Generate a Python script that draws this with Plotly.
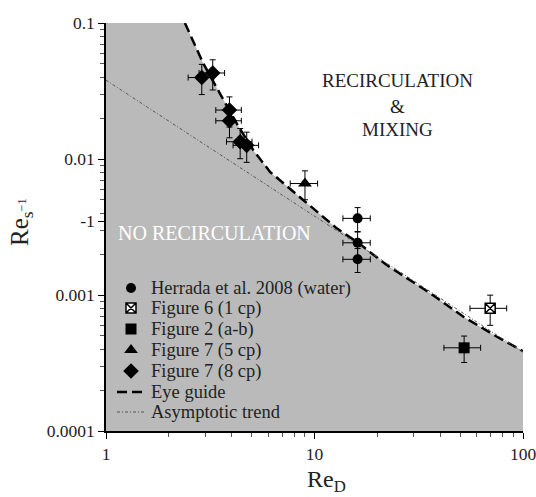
import plotly.graph_objects as go

# ---------------- data ----------------
herrada_x = [16.1, 16.1, 16.1]
herrada_y = [0.00366, 0.00242, 0.00183]

fig6_x = [69.6]
fig6_y = [0.000798]

fig2_x = [52.2]
fig2_y = [0.000409]

fig7_5cp_x = [9.0]
fig7_5cp_y = [0.0066]

fig7_8cp_x = [2.88, 3.25, 3.91, 3.91, 4.40, 4.73]
fig7_8cp_y = [0.0397, 0.0429, 0.0229, 0.0191, 0.0134, 0.0126]

eye_x = [2.39, 2.93, 3.52, 4.24, 5.09, 6.12, 8.85, 12.79, 15.96, 22.2, 35.9, 51.8, 75.0, 100.0]
eye_y = [0.1, 0.0503, 0.0303, 0.0182, 0.0116, 0.00804, 0.00498, 0.00309, 0.00246,
         0.00166, 0.00103, 0.000692, 0.000493, 0.000387]

asym_x = [1.0, 100.0]
asym_y = [0.038, 0.00038]

x_tickvals = [1, 10, 100]
x_ticktext = ["1", "10", "100"]
y_tickvals = [0.0001, 0.001, 0.0035, 0.01, 0.1]
y_ticktext = ["0.0001", "0.001", "-1", "0.01", "0.1"]

legend_names = ["Herrada et al. 2008 (water)", "Figure 6 (1 cp)", "Figure 2 (a-b)",
                "Figure 7 (5 cp)", "Figure 7 (8 cp)", "Eye guide", "Asymptotic trend"]

# ---------------- layout geometry (pixels) ----------------
W, H = 536, 497
L, R, T, B = 106, 13, 23, 66
PW, PH = W - L - R, H - T - B

def px2x(px):
    return (px - L) / PW

def py2y(py):
    return (H - B - py) / PH

SERIF = "Liberation Serif, Times New Roman, serif"
TXT = "#222"
fig = go.Figure()

# shaded "no recirculation" region below the eye guide
fig.add_trace(go.Scatter(
    x=[1.0] + eye_x + [eye_x[-1], 1.0],
    y=[eye_y[0]] + eye_y + [0.0001, 0.0001],
    fill="toself", fillcolor="#bababa", mode="none",
    showlegend=False, hoverinfo="skip"))

err_line = dict(color="black", thickness=1, width=3)

styles = [
    dict(symbol="circle", size=10, color="black", line=dict(color="black", width=0)),
    dict(symbol="square-x", size=10, color="white", line=dict(color="black", width=1.5)),
    dict(symbol="square", size=11, color="black", line=dict(color="black", width=0)),
    dict(symbol="triangle-up", size=12, color="black", line=dict(color="black", width=0)),
    dict(symbol="diamond", size=12, color="black", line=dict(color="black", width=0)),
]

series = [
    (herrada_x, herrada_y, 15, 20),
    (fig6_x, fig6_y, 20, 25),
    (fig2_x, fig2_y, 20, 22),
    (fig7_5cp_x, fig7_5cp_y, 15, 24),
    (fig7_8cp_x, fig7_8cp_y, 14, 25),
]

eye_line = dict(color="black", width=2.5, dash="10px,5px")
asym_line = dict(color="#555555", width=1, dash="3px,2px,1px,2px")

fig.add_trace(go.Scatter(x=eye_x, y=eye_y, mode="lines", name="Eye guide",
                         line=eye_line, showlegend=False))
fig.add_trace(go.Scatter(x=asym_x, y=asym_y, mode="lines", name="Asymptotic trend",
                         line=asym_line, showlegend=False))

for (x, y, ex, ey), st, nm in zip(series, styles, legend_names):
    fig.add_trace(go.Scatter(
        x=x, y=y, mode="markers", name=nm, marker=st, showlegend=False,
        error_x=dict(type="percent", value=ex, **err_line),
        error_y=dict(type="percent", value=ey, **err_line)))

# ---------- hand-placed legend (overlay axes in plot-fraction units) ----------
row_py = [288, 308, 329, 350, 371, 392, 412]
for i, st in enumerate(styles):
    fig.add_trace(go.Scatter(x=[px2x(131)], y=[py2y(row_py[i])], mode="markers",
                             marker=st, xaxis="x2", yaxis="y2",
                             showlegend=False, hoverinfo="skip"))
for i, ln in zip((5, 6), (eye_line, asym_line)):
    fig.add_trace(go.Scatter(x=[px2x(117), px2x(145)], y=[py2y(row_py[i])] * 2,
                             mode="lines", line=ln, xaxis="x2", yaxis="y2",
                             showlegend=False, hoverinfo="skip"))
for i, nm in enumerate(legend_names):
    fig.add_annotation(x=px2x(149), y=py2y(row_py[i]), xref="paper", yref="paper",
                       text=nm, showarrow=False, xanchor="left", yanchor="middle",
                       font=dict(family=SERIF, size=18.5, color=TXT))

# ---------- region labels ----------
for txt, py in (("RECIRCULATION", 80.7), ("&amp;", 106), ("MIXING", 129.3)):
    fig.add_annotation(x=px2x(397), y=py2y(py), xref="paper", yref="paper",
                       text=txt, showarrow=False, xanchor="center", yanchor="middle",
                       font=dict(family=SERIF, size=19, color=TXT))
fig.add_annotation(x=px2x(214), y=py2y(233), xref="paper", yref="paper",
                   text="NO RECIRCULATION", showarrow=False,
                   xanchor="center", yanchor="middle",
                   font=dict(family=SERIF, size=20, color="white"))

# ---------- axis titles ----------
fig.add_annotation(x=px2x(326), y=py2y(481), xref="paper", yref="paper",
                   text="Re<sub>D</sub>", showarrow=False,
                   xanchor="center", yanchor="middle",
                   font=dict(family=SERIF, size=24, color=TXT))
fig.add_annotation(x=px2x(21), y=py2y(222), xref="paper", yref="paper",
                   text="Re<sub>s<sup>−1</sup></sub>", showarrow=False, textangle=-90,
                   xanchor="center", yanchor="middle",
                   font=dict(family=SERIF, size=25, color=TXT))

x_minor = [v * m for v in (1, 10) for m in range(2, 10)]
y_minor = [v * m for v in (0.0001, 0.001, 0.01) for m in range(2, 10)]

fig.update_layout(
    width=W, height=H,
    margin=dict(l=L, r=R, t=T, b=B, autoexpand=False),
    plot_bgcolor="white", paper_bgcolor="white",
    font=dict(family=SERIF, size=16, color=TXT),
    showlegend=False,
    xaxis=dict(type="log", range=[0, 2], showgrid=False, zeroline=False,
               showline=True, linecolor="black", linewidth=1.5,
               ticks="outside", ticklen=6, tickcolor="black",
               tickmode="array", tickvals=x_tickvals, ticktext=x_ticktext,
               ticklabeloverflow="allow",
               tickfont=dict(family=SERIF, size=17.5, color=TXT),
               minor=dict(tickmode="array", tickvals=x_minor, ticks="outside",
                          ticklen=4, tickcolor="#555", showgrid=False)),
    yaxis=dict(type="log", range=[-4, -1], showgrid=False, zeroline=False,
               showline=True, linecolor="black", linewidth=1.5,
               ticks="outside", ticklen=6, tickcolor="black",
               tickmode="array", tickvals=y_tickvals, ticktext=y_ticktext,
               ticklabeloverflow="allow",
               tickfont=dict(family=SERIF, size=17.5, color=TXT),
               minor=dict(tickmode="array", tickvals=y_minor, ticks="outside",
                          ticklen=4, tickcolor="#555", showgrid=False)),
    xaxis2=dict(overlaying="x", range=[0, 1], visible=False, fixedrange=True),
    yaxis2=dict(overlaying="y", range=[0, 1], visible=False, fixedrange=True),
)

fig.write_html("out.html")
